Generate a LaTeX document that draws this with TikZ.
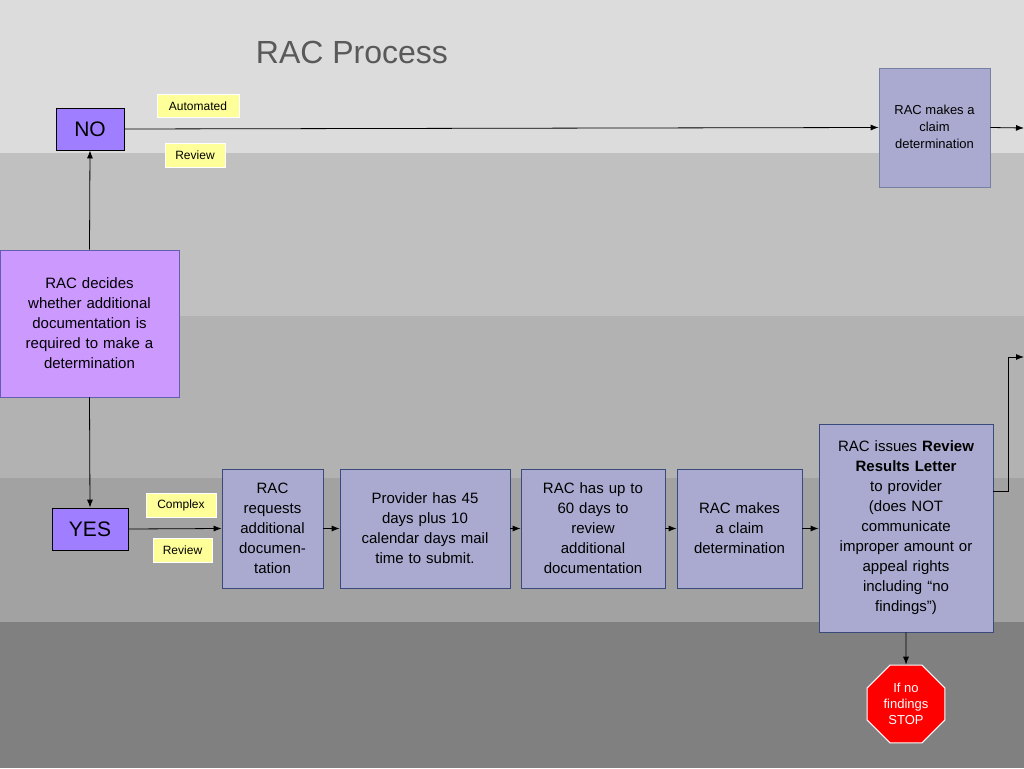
\documentclass[tikz,border=0pt]{standalone}
\usepackage{fontspec}
\setmainfont{Liberation Sans}
\usetikzlibrary{arrows.meta,shapes.geometric}
\definecolor{bA}{HTML}{DCDCDC}\definecolor{bB}{HTML}{C0C0C0}\definecolor{bC}{HTML}{B2B2B2}
\definecolor{bD}{HTML}{A2A2A2}\definecolor{bE}{HTML}{808080}
\definecolor{boxf}{HTML}{AAAAD0}\definecolor{boxd}{HTML}{3A4A7A}
\definecolor{pur}{HTML}{9F7FFF}\definecolor{lil}{HTML}{CC99FF}
\definecolor{yel}{HTML}{FFFF99}\definecolor{tgray}{HTML}{595959}
\begin{document}
\begin{tikzpicture}[x=1pt,y=-1pt,
 box/.style={draw=boxd,fill=boxf,line width=0.8pt,font=\fontsize{15}{20}\selectfont,align=center,inner sep=1pt},
 lab/.style={fill=yel,draw=white,line width=0.5pt,font=\fontsize{12}{14}\selectfont,inner sep=0pt},
 yn/.style={draw=black,fill=pur,line width=0.8pt,font=\fontsize{21}{24}\selectfont,inner sep=0pt},
 arr/.style={-{Latex[length=8pt,width=6pt]},line width=0.8pt}]
\useasboundingbox (0,0) rectangle (1024,768);
\fill[bA] (0,0) rectangle (1024,153);
\fill[bB] (0,153) rectangle (1024,316);
\fill[bC] (0,316) rectangle (1024,478);
\fill[bD] (0,478) rectangle (1024,622);
\fill[bE] (0,622) rectangle (1024,768);
\node[text=tgray,font=\fontsize{32}{36}\selectfont] (t) at (352,52) {RAC Process};
\node[yn,minimum width=68pt,minimum height=42pt] (no) at (90,129) {NO};
\node[lab,minimum width=82pt,minimum height=23pt] (auto) at (198,106) {Automated};
\node[lab,minimum width=60pt,minimum height=24pt] (rev1) at (195,155) {Review};
\node[draw=boxd!70,fill=boxf,line width=0.8pt,minimum width=111pt,minimum height=119pt] (top) at (934.5,127.5) {};
\node[align=center,font=\fontsize{13}{17}\selectfont,anchor=north] (toptext) at (934.5,102) {RAC makes a\\claim\\determination};
\coordinate (e1) at (1024,128);
\node[draw=boxd!60!pur,fill=lil,line width=0.8pt,minimum width=179pt,minimum height=147pt,text width=170pt,align=center,font=\fontsize{15}{20}\selectfont] (dec) at (89.5,323.5) {RAC decides\\whether additional\\documentation is\\required to make a\\determination};
\node[yn,minimum width=76pt,minimum height=42pt] (yes) at (90,529) {YES};
\node[lab,minimum width=70pt,minimum height=24pt] (cx) at (181,505) {Complex};
\node[lab,minimum width=59pt,minimum height=24pt] (rev2) at (182.5,550) {Review};
\node[box,minimum width=101pt,minimum height=119pt,text width=95pt] (a) at (272.5,528.5) {RAC\\requests\\additional\\documen-\\tation};
\node[box,minimum width=170pt,minimum height=119pt,text width=160pt] (b) at (425,528.5) {Provider has 45\\days plus 10\\calendar days mail\\time to submit.};
\node[box,minimum width=144pt,minimum height=119pt,text width=140pt] (c) at (593,528.5) {RAC has up to\\60 days to\\review\\additional\\documentation};
\node[box,minimum width=125pt,minimum height=119pt,text width=120pt] (d) at (739.5,528.5) {RAC makes\\a claim\\determination};
\node[box,minimum width=174pt,minimum height=208pt,text width=170pt] (e) at (906,528) {RAC issues \textbf{Review}\\\textbf{Results Letter}\\to provider\\(does NOT\\communicate\\improper amount or\\appeal rights\\including “no\\findings”)};
\node[regular polygon,regular polygon sides=8,fill=red,draw=white,line width=1pt,minimum size=84pt,inner sep=0pt,text=white,align=center,font=\fontsize{13}{16}\selectfont] (stop) at (906,704) {If no\\findings\\STOP};
\coordinate (e2) at (1024,357);
\draw[arr] (no.east) -- (top.west);
\draw[arr] (top.east) -- (e1);
\draw[arr] (dec.north) -- (no.south);
\draw[arr] (dec.south) -- (yes.north);
\draw[arr] (yes.east) -- (a.west);
\draw[arr] (a) -- (b);
\draw[arr] (b) -- (c);
\draw[arr] (c) -- (d);
\draw[arr] (d) -- (e.west|-d);
\draw[arr] (e.east|-0,491) -- (1008,491) -- (1008,357) -- (e2);
\draw[arr] (e.south) -- (stop.north);
\end{tikzpicture}
\end{document}
